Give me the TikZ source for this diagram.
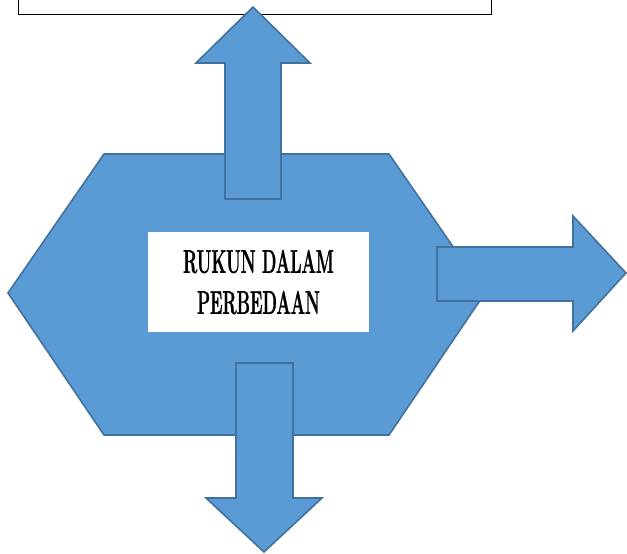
\documentclass[tikz,border=0pt]{standalone}
\usepackage{fontspec}
\usepackage{tikz}
\usetikzlibrary{calc}
\newfontfamily\judulfont[FakeStretch=0.51,FakeBold=0.8]{Latin Modern Roman}
\definecolor{birumuda}{HTML}{5B9BD5}
\definecolor{birutua}{HTML}{41719C}
\tikzset{bentuk/.style={fill=birumuda,draw=birutua,line width=1.6pt,line join=miter}}

\begin{document}
\begin{tikzpicture}[x=1pt,y=-1pt]
            \useasboundingbox (0,0) rectangle (627,554);
            % kotak atas
            \draw[line width=0.8pt,fill=white](18,-20) rectangle (491,14);
            % segienam
            \draw[bentuk](8,293)--(104,154)--(389,154)--(485,293)--(389,435)--(104,435)--cycle;
            % panah atas
            \draw[bentuk](225,199)--(225,63)--(196,63)--(253,7)--(310,63)--(281,63)--(281,199)--cycle;
            % panah kanan
            \draw[bentuk](437,247)--(573,247)--(573,216)--(626,273)--(573,331)--(573,301)--(437,301)--cycle;
            % panah bawah
            \draw[bentuk](236,363)--(293,363)--(293,498)--(322,498)--(264,552)--(206,498)--(236,498)--cycle;
            % kotak judul
            \node[fill=white,minimum width=221pt,minimum height=100pt,inner sep=0pt,align=center,
                  font=\judulfont\bfseries\fontsize{33}{41}\selectfont] (judul) at (258.5,282)
                {RUKUN DALAM\\PERBEDAAN};
        \end{tikzpicture}
\end{document}
